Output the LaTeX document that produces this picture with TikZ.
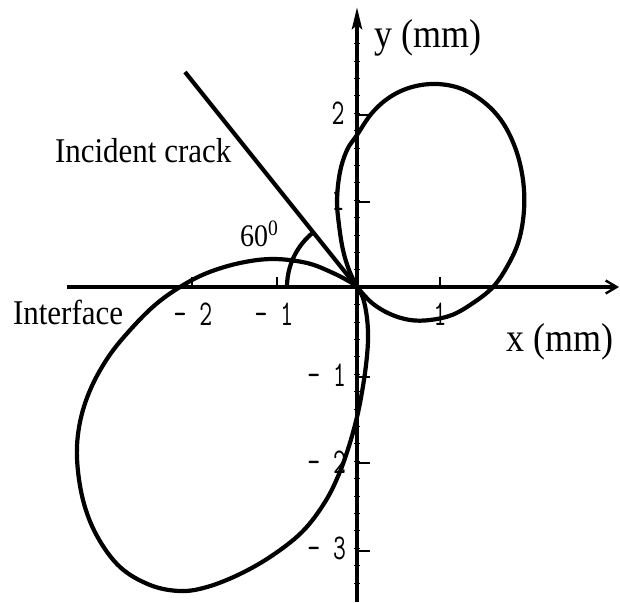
\documentclass[tikz,border=0pt]{standalone}
\usepackage{fontspec}
\usepackage{graphicx}
\setmainfont{Liberation Serif}
\usetikzlibrary{arrows.meta}
\newcommand{\serT}[2]{\fontsize{#1}{#1}\selectfont\scalebox{1}[1.12]{#2}}
\newcommand{\monT}[1]{\ttfamily\fontsize{25}{25}\selectfont\scalebox{1}[1.45]{#1}}
\tikzset{
  curve/.style={line width=4.2pt, line join=round, line cap=round},
  axis/.style={line width=4pt},
  majtick/.style={line width=2.4pt},
  mintick/.style={line width=0.6pt},
  lbl/.style={inner sep=0pt, outer sep=0pt},
}
\begin{document}
\begin{tikzpicture}[x=1pt,y=-1pt]
\useasboundingbox (0,0) rectangle (620,602);
\coordinate (O) at (357,287);
\coordinate (xl) at (67,287);
\coordinate (xr) at (619,287);
\coordinate (yt) at (357,7);
\coordinate (yb) at (357,602);
\coordinate (ct) at (185,72);
% axes
\draw[axis, -{Straight Barb[length=11pt,width=13pt,line width=2.4pt]}] (xl) -- (xr);
\draw[axis, -{Stealth[length=22pt,width=10pt,inset=4pt]}] (yb) -- (yt);
% major ticks
\foreach \xx in {192,277,440} \draw[majtick] (\xx,287) -- (\xx,277);
\foreach \yy in {115,202,377,463,551} \draw[majtick] (357,\yy) -- (370,\yy);
% minor ticks on y axis
\foreach \k in {-14,...,17} {
  \pgfmathsetmacro{\yy}{287+17.4*\k}
  \draw[mintick] (354,\yy) -- (360,\yy);
}
% incident crack
\draw[curve, line cap=butt] (ct) -- (O);
% angle arc
\draw[curve, line cap=butt] plot[domain=180:129, samples=30] ({357+70*cos(\x)},{287-70*sin(\x)});
% upper right lobe
\draw[curve] plot[smooth, tension=0.6] coordinates {
 (357,287) (349,270) (343,250) (339,225) (337,200) (340,172) (347,150) (357,135)
 (372,113) (390,97) (412,87) (437,84) (462,89) (485,103) (503,123) (516,150)
 (523,180) (524,210) (519,240) (508,265) (493,287) (473,303) (452,315) (430,320)
 (410,320) (390,314) (372,303) (357,287)};
% lower left lobe
\draw[curve] plot[smooth, tension=0.6] coordinates {
 (357,287) (363,298) (367,318) (368,340) (366,365) (362,392) (357,417) (349,446)
 (339,474) (325,502) (303,531) (273,555) (240,574) (207,587) (180,591)
 (150,585) (120,567) (97,536) (83,500) (77,458) (80,422) (91,388) (109,356)
 (131,329) (155,305) (180,287) (207,273) (240,263) (273,259) (307,263) (333,273) (352,283)
 (357,287)};
% labels
\node[lbl] (ylab) at (428,38) {\serT{36}{y (mm)}};
\node[lbl] (xlab) at (560,342) {\serT{36}{x (mm)}};
\node[lbl, anchor=base west] (inc) at (55,162) {\serT{31}{Incident crack}};
\node[lbl, anchor=base west] (intf) at (13,324) {\serT{31}{Interface}};
\node[lbl, anchor=base west] (ang) at (240,246) {\serT{28}{60\textsuperscript{0}}};
% numbers
\node[lbl] (xm2) at (193,314) {\monT{- 2}};
\node[lbl] (xm1) at (274,314) {\monT{- 1}};
\node[lbl] (xp1) at (440,314) {\monT{1}};
\node[lbl] (yp2) at (338,113) {\monT{2}};
\node[lbl] (yp1) at (338,199) {\monT{1}};
\node[lbl, anchor=east] (ym1) at (346,375) {\monT{- 1}};
\node[lbl, anchor=east] (ym2) at (346,462) {\monT{- 2}};
\node[lbl, anchor=east] (ym3) at (346,548) {\monT{- 3}};
\end{tikzpicture}
\end{document}
